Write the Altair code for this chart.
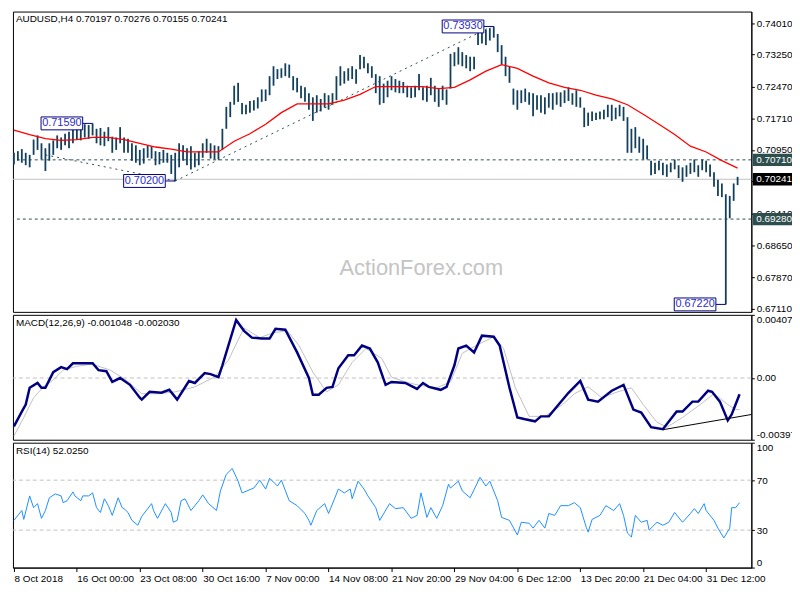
import json
import altair as alt
import pandas as pd

# ---------------- data ----------------
# price bars (every 2nd H4 bar), high / low
bar_high = [
    0.7088, 0.7092, 0.7097, 0.7088, 0.7083, 0.7120, 0.7130, 0.7111, 0.7099, 0.7111,
    0.7118, 0.7130, 0.7125, 0.7134, 0.7139, 0.7143, 0.7153, 0.7148, 0.7157, 0.7155,
    0.7159, 0.7146, 0.7148, 0.7139, 0.7150, 0.7127, 0.7125, 0.7150, 0.7125, 0.7122,
    0.7111, 0.7106, 0.7095, 0.7099, 0.7106, 0.7104, 0.7092, 0.7090, 0.7095, 0.7088,
    0.7083, 0.7088, 0.7111, 0.7106, 0.7099, 0.7104, 0.7088, 0.7092, 0.7111, 0.7122,
    0.7111, 0.7106, 0.7104, 0.7146, 0.7199, 0.7211, 0.7250, 0.7257, 0.7208, 0.7204,
    0.7213, 0.7215, 0.7222, 0.7241, 0.7241, 0.7273, 0.7297, 0.7290, 0.7292, 0.7304,
    0.7301, 0.7273, 0.7269, 0.7250, 0.7246, 0.7232, 0.7222, 0.7227, 0.7218, 0.7232,
    0.7227, 0.7232, 0.7273, 0.7297, 0.7285, 0.7292, 0.7297, 0.7290, 0.7324, 0.7320,
    0.7304, 0.7297, 0.7278, 0.7273, 0.7255, 0.7262, 0.7273, 0.7266, 0.7262, 0.7259,
    0.7250, 0.7246, 0.7250, 0.7278, 0.7246, 0.7250, 0.7269, 0.7250, 0.7243, 0.7250,
    0.7241, 0.7327, 0.7331, 0.7343, 0.7331, 0.7324, 0.7320, 0.7320, 0.7385, 0.7378,
    0.7385, 0.7389, 0.7393, 0.7375, 0.7348, 0.7320, 0.7297, 0.7243, 0.7239, 0.7239,
    0.7243, 0.7234, 0.7232, 0.7227, 0.7227, 0.7222, 0.7232, 0.7232, 0.7234, 0.7234,
    0.7239, 0.7246, 0.7232, 0.7239, 0.7222, 0.7197, 0.7185, 0.7188, 0.7185, 0.7188,
    0.7192, 0.7204, 0.7204, 0.7197, 0.7204, 0.7199, 0.7174, 0.7146, 0.7150, 0.7127,
    0.7122, 0.7106, 0.7069, 0.7064, 0.7069, 0.7064, 0.7060, 0.7064, 0.7072, 0.7058,
    0.7053, 0.7058, 0.7064, 0.7072, 0.7058, 0.7072, 0.7069, 0.7060, 0.7041, 0.7023,
    0.7014, 0.6988, 0.6984, 0.7014, 0.7030,
]
bar_low = [
    0.7060, 0.7069, 0.7064, 0.7058, 0.7053, 0.7083, 0.7095, 0.7072, 0.7044, 0.7069,
    0.7083, 0.7099, 0.7095, 0.7106, 0.7099, 0.7111, 0.7120, 0.7118, 0.7125, 0.7122,
    0.7130, 0.7111, 0.7106, 0.7104, 0.7116, 0.7088, 0.7095, 0.7111, 0.7088, 0.7088,
    0.7069, 0.7064, 0.7058, 0.7062, 0.7076, 0.7074, 0.7058, 0.7060, 0.7064, 0.7064,
    0.7037, 0.7020, 0.7053, 0.7069, 0.7058, 0.7048, 0.7053, 0.7058, 0.7076, 0.7088,
    0.7074, 0.7072, 0.7072, 0.7095, 0.7146, 0.7174, 0.7204, 0.7211, 0.7181, 0.7181,
    0.7185, 0.7190, 0.7195, 0.7211, 0.7213, 0.7227, 0.7250, 0.7266, 0.7269, 0.7273,
    0.7269, 0.7239, 0.7234, 0.7220, 0.7211, 0.7192, 0.7165, 0.7185, 0.7188, 0.7197,
    0.7192, 0.7204, 0.7215, 0.7250, 0.7255, 0.7262, 0.7266, 0.7255, 0.7290, 0.7292,
    0.7280, 0.7269, 0.7232, 0.7204, 0.7208, 0.7222, 0.7239, 0.7234, 0.7232, 0.7232,
    0.7222, 0.7220, 0.7222, 0.7239, 0.7215, 0.7211, 0.7227, 0.7211, 0.7199, 0.7215,
    0.7204, 0.7243, 0.7297, 0.7301, 0.7297, 0.7292, 0.7285, 0.7290, 0.7348, 0.7352,
    0.7348, 0.7359, 0.7366, 0.7331, 0.7301, 0.7273, 0.7257, 0.7204, 0.7192, 0.7208,
    0.7211, 0.7204, 0.7176, 0.7192, 0.7185, 0.7181, 0.7197, 0.7192, 0.7204, 0.7199,
    0.7208, 0.7213, 0.7204, 0.7199, 0.7197, 0.7150, 0.7153, 0.7165, 0.7167, 0.7169,
    0.7169, 0.7174, 0.7165, 0.7169, 0.7176, 0.7165, 0.7088, 0.7088, 0.7099, 0.7088,
    0.7072, 0.7072, 0.7034, 0.7037, 0.7046, 0.7034, 0.7030, 0.7041, 0.7048, 0.7027,
    0.7018, 0.7030, 0.7037, 0.7041, 0.7030, 0.7046, 0.7041, 0.7030, 0.7006, 0.6984,
    0.6981, 0.6722, 0.6930, 0.6972, 0.7010,
]
bar_step = 2          # H4 index step between drawn bars

# moving average (every 8th H4 bar)
sma_values = [
    0.7143, 0.7132, 0.7122, 0.7118, 0.7120, 0.7125, 0.7125, 0.7120, 0.7111, 0.7102,
    0.7097, 0.7090, 0.7090, 0.7090, 0.7116, 0.7134, 0.7157, 0.7185, 0.7206, 0.7206,
    0.7206, 0.7215, 0.7229, 0.7248, 0.7248, 0.7248, 0.7248, 0.7243, 0.7246, 0.7264,
    0.7285, 0.7301, 0.7292, 0.7273, 0.7257, 0.7246, 0.7239, 0.7227, 0.7218, 0.7204,
    0.7181, 0.7157, 0.7132, 0.7104, 0.7090, 0.7069, 0.7051,
]
sma_step = 8

macd_index = [0, 4, 6, 8, 12, 14, 16, 20, 24, 27, 30, 34, 40, 43, 47, 50, 54, 59, 64, 65,
              69, 75, 79, 83, 89, 92, 97, 100, 104, 106, 113, 117, 121, 126, 130, 133, 138, 144, 150, 152,
              155, 159, 162, 165, 170, 173, 177, 181, 185, 189, 192, 199, 205, 208, 211, 217, 220, 224, 226, 230,
              234, 238, 244, 247, 252, 256, 260, 265, 268, 272, 277, 282, 288, 292, 297, 304, 310, 315, 319, 324,
              330, 337, 340, 345, 348, 353, 355, 359, 363, 365, 369]
macd_values = [-0.00311, -0.00216, -0.00171, -0.00063, -0.00032, -0.00063, -0.00063, 0.00038, 0.0007, 0.00057,
               0.00095, 0.00095, 0.00095, 0.00051, 0.00044, -0.00025, 0.0, -0.00044, -0.00127, -0.00139,
               -0.00089, -0.00095, -0.00076, -0.00139, -0.00019, -0.00032, 0.00032, 0.00025, 0.00006, 0.00082,
               0.00374, 0.00304, 0.0026, 0.00254, 0.00254, 0.00317, 0.00311, 0.00165, 0.0, -0.00108,
               -0.00108, -0.00063, -0.00057, 0.00063, 0.00146, 0.00146, 0.00209, 0.0019, 0.00101, -0.00044,
               -0.00025, -0.00032, -0.0007, -0.00032, -0.00057, -0.00076, -0.00057, 0.00082, 0.0019, 0.00209,
               0.00165, 0.00273, 0.00266, 0.00209, -0.00063, -0.00254, -0.00266, -0.00279, -0.00247, -0.00247,
               -0.00171, -0.00095, -0.00019, -0.00139, -0.00152, -0.00082, -0.00044, -0.00203, -0.00222, -0.00317,
               -0.0033, -0.00216, -0.00216, -0.00152, -0.00152, -0.00082, -0.00089, -0.00152, -0.00273, -0.00235,
               -0.00105]

signal_index = [0, 5, 10, 15, 20, 25, 32, 40, 49, 57, 65, 74, 82, 92, 102, 109, 117, 125, 132, 139,
                145, 152, 159, 165, 172, 179, 187, 192, 199, 205, 215, 222, 228, 235, 244, 249, 255, 262, 270, 279,
                285, 292, 299, 307, 314, 320, 327, 332, 340, 349, 356, 363, 367, 369]
signal_values = [-0.00374, -0.00254, -0.00127, -0.00057, -0.00013, 0.00051, 0.00076, 0.00089, 0.00051, -0.00013,
                 -0.00101, -0.00101, -0.00089, -0.00057, 0.00006, 0.00114, 0.00323, 0.0026, 0.00292, 0.00304,
                 0.00209, 0.00038, -0.00089, -0.00044, 0.00101, 0.0019, 0.00127, 0.00006, -0.00025, -0.00044,
                 -0.00063, -0.00025, 0.00159, 0.00209, 0.00266, 0.0019, -0.00063, -0.00247, -0.00247, -0.00171,
                 -0.00101, -0.00057, -0.00127, -0.00089, -0.00063, -0.00171, -0.00285, -0.00317, -0.00254, -0.00171,
                 -0.00101, -0.00171, -0.00203, -0.00203]

macd_trend_index = [330, 375]
macd_trend_values = [-0.00333, -0.00235]

rsi_index = [0, 4, 5, 8, 10, 12, 14, 16, 18, 21, 24, 25, 27, 30, 31, 34, 35, 38, 40, 42,
             44, 46, 48, 50, 53, 55, 56, 58, 60, 63, 65, 70, 71, 73, 77, 80, 81, 83, 85, 87,
             90, 94, 96, 99, 103, 105, 108, 111, 114, 116, 122, 125, 128, 130, 134, 136, 140, 144, 148, 150,
             151, 154, 158, 160, 165, 168, 171, 172, 175, 178, 180, 184, 186, 191, 194, 198, 202, 205, 207, 210,
             212, 215, 218, 221, 222, 226, 228, 232, 237, 240, 242, 246, 248, 252, 256, 258, 262, 264, 267, 270,
             272, 275, 278, 282, 285, 288, 291, 292, 294, 298, 301, 305, 308, 310, 312, 314, 316, 319, 322, 323,
             327, 330, 333, 336, 340, 344, 346, 348, 351, 352, 356, 358, 361, 364, 365, 367, 369]
rsi_values = [37.8, 45.7, 38.6, 57.4, 48.0, 51.2, 39.4, 45.7, 55.9, 59.0, 57.4, 52.0, 53.5, 60.6, 57.4, 53.5, 57.4, 57.4, 59.8, 48.0,
              44.1, 55.1, 49.6, 41.8, 55.9, 48.0, 47.2, 44.1, 37.8, 33.9, 41.0, 51.2, 45.7, 39.4, 51.2, 44.1, 36.3, 37.8, 53.5, 55.1,
              45.7, 53.5, 58.2, 51.2, 45.7, 61.4, 74.7, 79.4, 69.2, 59.8, 63.7, 70.0, 62.9, 71.6, 65.3, 70.0, 53.5, 49.6, 43.3, 37.8,
              33.9, 45.7, 51.2, 43.3, 62.9, 59.8, 62.9, 55.1, 69.2, 62.9, 57.4, 48.0, 37.8, 51.2, 47.2, 48.0, 39.4, 41.8, 59.8, 40.2,
              48.0, 39.4, 49.6, 66.8, 63.7, 69.2, 61.4, 55.9, 72.3, 65.3, 69.2, 53.5, 40.2, 37.8, 26.1, 36.3, 35.5, 31.6, 37.8, 31.6,
              43.3, 41.8, 49.6, 49.6, 52.0, 48.0, 32.4, 28.4, 38.6, 41.8, 49.6, 45.7, 51.2, 41.8, 27.6, 24.5, 41.8, 36.3, 37.8, 30.0,
              36.3, 33.9, 36.3, 44.1, 36.3, 43.3, 47.2, 43.3, 51.2, 45.7, 37.8, 31.6, 23.7, 31.6, 48.0, 48.0, 52.0]
rsi_levels = [70, 30]

tick_index = [0, 32, 64, 96, 128, 160, 192, 224, 256, 288, 320, 352]
tick_labels = ["8 Oct 2018", "16 Oct 00:00", "23 Oct 08:00", "30 Oct 16:00", "7 Nov 00:00",
               "14 Nov 08:00", "21 Nov 20:00", "29 Nov 04:00", "6 Dec 12:00", "13 Dec 20:00",
               "21 Dec 04:00", "31 Dec 12:00"]
price_ticks = [0.74010, 0.73250, 0.72470, 0.71710, 0.70950, 0.70190, 0.69410, 0.68650, 0.67870, 0.67110]
macd_ticks = [-0.003975, 0.0, 0.00407]
macd_tick_labels = ["-0.003975", "0.00", "0.00407"]
rsi_ticks = [0, 30, 70, 100]

level_lines = [0.70710, 0.69280]
last_price = [0.70241]
highlight_prices = [0.70710, 0.70241, 0.69280]
highlight_colors = ["#2f4f4f", "#000000", "#2f4f4f"]

pivot_index = [40, 82, 244, 362]
pivot_price = [0.71590, 0.70200, 0.73930, 0.67220]

trend_start_index = [16, 82]
trend_start_price = [0.7083, 0.7020]
trend_end_index = [82, 243]
trend_end_price = [0.7020, 0.7393]

PRICE_TITLE = "AUDUSD,H4  0.70197 0.70276 0.70155 0.70241"
MACD_TITLE = "MACD(12,26,9) -0.001048 -0.002030"
RSI_TITLE = "RSI(14) 52.0250"
WATERMARK = "ActionForex.com"

# ---------------- styling ----------------
W = 745
H_PRICE = 303
H_MACD = 126
H_RSI = 126
X_DOMAIN = [-0.5, 375]
FONT = "Liberation Sans"
BAR_COLOR = "#123f5c"
SLATE = "#2f4f4f"

x_scale = alt.Scale(domain=X_DOMAIN, nice=False, zero=False)
yp_scale = alt.Scale(domain=[0.6704, 0.7429], nice=False, zero=False)
ym_scale = alt.Scale(domain=[macd_ticks[0], macd_ticks[-1]], nice=False, zero=False)
yr_scale = alt.Scale(domain=[0, 100], nice=False, zero=False)

axis_common = dict(title=None, grid=False, tickSize=3, labelPadding=2, labelFontSize=10,
                   labelFont=FONT, labelColor="black", domainColor="black", tickColor="black",
                   labelOverlap=False)
yp_axis = alt.Axis(orient="right", values=price_ticks, format=".5f", labelFlush=False, **axis_common)
ym_axis = alt.Axis(orient="right", values=macd_ticks, labelFlush=True,
                   labelExpr=f"{json.dumps(macd_tick_labels)}[indexof({json.dumps(macd_ticks)}, datum.value)]",
                   **axis_common)
yr_axis = alt.Axis(orient="right", values=rsi_ticks, labelFlush=True, **axis_common)
x_axis_bottom = alt.Axis(orient="bottom", values=tick_index, title=None, grid=False, tickSize=4,
                         labelPadding=2, labelAlign="left", labelFontSize=10, labelFont=FONT,
                         labelColor="black", domainColor="black", tickColor="black",
                         labelOverlap=False, labelFlush=False,
                         labelExpr=f"{json.dumps(tick_labels)}[indexof({json.dumps(tick_index)}, datum.value)]")


def XP(f):
    return alt.X(f, scale=x_scale, axis=None)


def XB(f):
    return alt.X(f, scale=x_scale, axis=x_axis_bottom)


def YP(f):
    return alt.Y(f, scale=yp_scale, axis=yp_axis)


def YM(f):
    return alt.Y(f, scale=ym_scale, axis=ym_axis)


def YR(f):
    return alt.Y(f, scale=yr_scale, axis=yr_axis)


def panel_title(text):
    return alt.Chart(pd.DataFrame({"t": [text]})).mark_text(
        align="left", baseline="middle", font=FONT, fontSize=10, color="black"
    ).encode(x=alt.value(3), y=alt.value(8), text="t:N")


# ---------------- price panel ----------------
bars_df = pd.DataFrame({"i": list(range(0, bar_step * len(bar_high), bar_step)),
                        "high": bar_high, "low": bar_low})
sma_df = pd.DataFrame({"i": list(range(0, sma_step * len(sma_values), sma_step)), "sma": sma_values})
levels_df = pd.DataFrame({"level": level_lines})
last_df = pd.DataFrame({"price": last_price})
trend_df = pd.DataFrame({"i0": trend_start_index, "p0": trend_start_price,
                         "i1": trend_end_index, "p1": trend_end_price})
pivot_df = pd.DataFrame({"i": pivot_index, "price": pivot_price,
                         "label": [f"{p:.5f}" for p in pivot_price]})
hl_df = pd.DataFrame({"price": highlight_prices, "bg": highlight_colors,
                      "label": [f"{p:.5f}" for p in highlight_prices]})

watermark = alt.Chart(pd.DataFrame({"t": [WATERMARK]})).mark_text(
    font=FONT, fontSize=22, color="#c4c4c4", align="center", baseline="middle"
).encode(x=alt.value(412), y=alt.value(259), text="t:N")

levels = alt.Chart(levels_df).mark_rule(color=SLATE, strokeDash=[3, 3], strokeWidth=1).encode(y=YP("level:Q"))
lastline = alt.Chart(last_df).mark_rule(color="#c0c0c0", strokeWidth=1).encode(y=YP("price:Q"))
trend = alt.Chart(trend_df).mark_rule(color=SLATE, strokeDash=[2, 4], strokeWidth=1).encode(
    x=XP("i0:Q"), x2="i1:Q", y=YP("p0:Q"), y2="p1:Q")
bars = alt.Chart(bars_df).mark_rule(color=BAR_COLOR, strokeWidth=1.8).encode(
    x=XP("i:Q"), y=YP("high:Q"), y2="low:Q")
sma = alt.Chart(sma_df).mark_line(color="#ff0000", strokeWidth=1.3).encode(x=XP("i:Q"), y=YP("sma:Q"))

connectors = alt.Chart(pivot_df).mark_rule(color="#000080", strokeWidth=1, xOffset=-10).encode(
    x=XP("i:Q"), x2="i:Q", y=YP("price:Q"))
pivot_boxes = alt.Chart(pivot_df).mark_point(
    shape="M-1,-0.31H1V0.31H-1Z", size=1764, filled=True, fill="white", stroke="#000080",
    strokeWidth=1, opacity=1, xOffset=-31
).encode(x=XP("i:Q"), y=YP("price:Q"))
pivot_text = alt.Chart(pivot_df).mark_text(
    dx=-31, align="center", baseline="middle", font=FONT, fontSize=11, color="#2b2bcc"
).encode(x=XP("i:Q"), y=YP("price:Q"), text="label:N")

hl_boxes = alt.Chart(hl_df).mark_point(
    shape="M-1,-0.29H1V0.29H-1Z", size=1849, filled=True, opacity=1, strokeWidth=0
).encode(x=alt.value(W + 23), y=YP("price:Q"), fill=alt.Fill("bg:N", scale=None))
hl_text = alt.Chart(hl_df).mark_text(
    align="center", baseline="middle", font=FONT, fontSize=10, color="white"
).encode(x=alt.value(W + 23), y=YP("price:Q"), text="label:N")

price_chart = alt.layer(
    watermark, levels, lastline, trend, bars, sma, connectors, pivot_boxes, pivot_text,
    hl_boxes, hl_text, panel_title(PRICE_TITLE)
).properties(width=W, height=H_PRICE)

# ---------------- MACD panel ----------------
macd_df = pd.DataFrame({"i": macd_index, "v": macd_values})
signal_df = pd.DataFrame({"i": signal_index, "v": signal_values})
mtrend_df = pd.DataFrame({"i": macd_trend_index, "v": macd_trend_values})

macd_zero = alt.Chart(pd.DataFrame({"v": [0.0]})).mark_rule(
    color="#c0c0c0", strokeDash=[4, 3], strokeWidth=1).encode(y=YM("v:Q"))
signal_line = alt.Chart(signal_df).mark_line(color="#c0c0c0", strokeWidth=1).encode(
    x=XP("i:Q"), y=YM("v:Q"))
macd_line = alt.Chart(macd_df).mark_line(color="#000080", strokeWidth=2.5).encode(
    x=XP("i:Q"), y=YM("v:Q"))
macd_trend = alt.Chart(mtrend_df).mark_line(color="black", strokeWidth=1).encode(
    x=XP("i:Q"), y=YM("v:Q"))

macd_chart = alt.layer(
    macd_zero, signal_line, macd_line, macd_trend, panel_title(MACD_TITLE)
).properties(width=W, height=H_MACD)

# ---------------- RSI panel ----------------
rsi_df = pd.DataFrame({"i": rsi_index, "v": rsi_values})
rsi_lv = alt.Chart(pd.DataFrame({"v": rsi_levels})).mark_rule(
    color="#c0c0c0", strokeDash=[4, 3], strokeWidth=1).encode(y=YR("v:Q"))
rsi_line = alt.Chart(rsi_df).mark_line(color="#1e90ff", strokeWidth=1).encode(
    x=XB("i:Q"), y=YR("v:Q"))

rsi_chart = alt.layer(rsi_lv, rsi_line, panel_title(RSI_TITLE)).properties(width=W, height=H_RSI)

chart = alt.vconcat(price_chart, macd_chart, rsi_chart, spacing=3, bounds="flush").properties(
    background="white",
    padding={"left": 0, "top": 0, "right": -10, "bottom": 0},
).configure_view(stroke="black", strokeWidth=1)

chart.save("out.html", embed_options={"renderer": "svg", "actions": False})
